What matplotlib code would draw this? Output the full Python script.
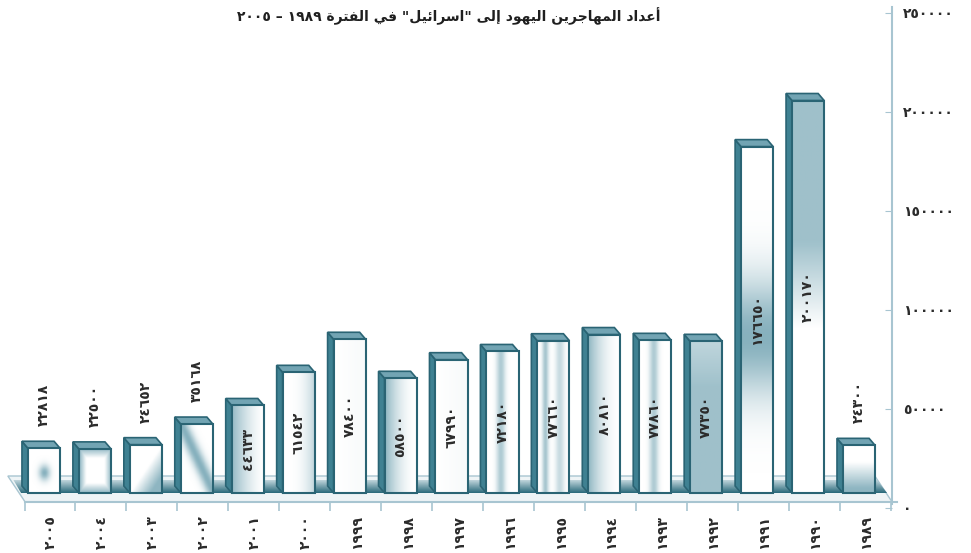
import re
import numpy as np
import matplotlib
matplotlib.use('Agg')
import matplotlib.pyplot as plt
from matplotlib.patches import Polygon, Rectangle
from matplotlib.colors import LinearSegmentedColormap

# ------------------- Data -------------------
years = [2005, 2004, 2003, 2002, 2001, 2000, 1999, 1998, 1997,
         1996, 1995, 1994, 1993, 1992, 1991, 1990, 1989]
immigrants = [22818, 22500, 24652, 35168, 44633, 61542, 78400, 58500, 67990,
              72180, 77660, 80810, 77860, 77350, 176650, 200170, 24300]
y_ticks = [0, 50000, 100000, 150000, 200000, 250000]
title = 'أعداد المهاجرين اليهود إلى "اسرائيل" في الفترة ١٩٨٩ – ٢٠٠٥'

# front face shading of each bar (left to right)
fills = ['blob', 'frame', 'diag_low', 'diag', 'left_soft', 'right_soft', 'plain',
         'left', 'plain', 'center', 'stripes', 'left', 'center', 'top_light',
         'mid_band', 'top', 'bottom']

EDGE = '#2a6474'
SIDE = '#3f8192'
TOP = '#72a4b3'
AXIS = '#a8c5d1'
TEXT = '#2b2b2b'

# ------------------- Arabic helpers -------------------
AR_DIGITS = str.maketrans('0123456789', '٠١٢٣٤٥٦٧٨٩')


def to_ar(n):
    return str(n).translate(AR_DIGITS)


FORMS = {
    'ا': ('\uFE8D', '\uFE8E', None, None),
    'أ': ('\uFE83', '\uFE84', None, None),
    'إ': ('\uFE87', '\uFE88', None, None),
    'ئ': ('\uFE89', '\uFE8A', '\uFE8B', '\uFE8C'),
    'ت': ('\uFE95', '\uFE96', '\uFE97', '\uFE98'),
    'ة': ('\uFE93', '\uFE94', None, None),
    'ج': ('\uFE9D', '\uFE9E', '\uFE9F', '\uFEA0'),
    'د': ('\uFEA9', '\uFEAA', None, None),
    'ر': ('\uFEAD', '\uFEAE', None, None),
    'س': ('\uFEB1', '\uFEB2', '\uFEB3', '\uFEB4'),
    'ع': ('\uFEC9', '\uFECA', '\uFECB', '\uFECC'),
    'ف': ('\uFED1', '\uFED2', '\uFED3', '\uFED4'),
    'ل': ('\uFEDD', '\uFEDE', '\uFEDF', '\uFEE0'),
    'م': ('\uFEE1', '\uFEE2', '\uFEE3', '\uFEE4'),
    'ن': ('\uFEE5', '\uFEE6', '\uFEE7', '\uFEE8'),
    'ه': ('\uFEE9', '\uFEEA', '\uFEEB', '\uFEEC'),
    'و': ('\uFEED', '\uFEEE', None, None),
    'ى': ('\uFEEF', '\uFEF0', None, None),
    'ي': ('\uFEF1', '\uFEF2', '\uFEF3', '\uFEF4'),
}


def shape_arabic(text):
    out = []
    for i, ch in enumerate(text):
        if ch not in FORMS:
            out.append(ch)
            continue
        prev = text[i - 1] if i > 0 else ''
        nxt = text[i + 1] if i + 1 < len(text) else ''
        iso, fin, ini, med = FORMS[ch]
        join_prev = prev in FORMS and FORMS[prev][2] is not None
        join_next = ini is not None and nxt in FORMS
        if join_prev and join_next:
            out.append(med)
        elif join_prev:
            out.append(fin)
        elif join_next:
            out.append(ini)
        else:
            out.append(iso)
    vis = ''.join(out)[::-1]
    # numbers stay left to right
    return re.sub('[٠-٩0-9]+', lambda m: m.group(0)[::-1], vis)


# ------------------- Shading patterns -------------------
def pattern(name):
    u, v = np.meshgrid(np.linspace(0, 1, 40), np.linspace(0, 1, 80))
    if name == 'blob':
        return 0.75 * np.exp(-((u - 0.5) ** 2 + (v - 0.45) ** 2) / 0.03)
    if name == 'frame':
        d = np.minimum(np.minimum(u, 1 - u), np.minimum(v, 1 - v))
        return 0.7 * np.clip(1 - d / 0.22, 0, 1)
    if name == 'diag_low':
        return 0.7 * np.clip((u - v) * 1.6, 0, 1)
    if name == 'diag':
        return 0.75 * np.exp(-((u + v) - 1.0) ** 2 / 0.05)
    if name == 'left_soft':
        return 0.65 * (1 - u) ** 1.5
    if name == 'right_soft':
        return 0.45 * u ** 3
    if name == 'left':
        return 0.7 * (1 - u) ** 2
    if name == 'center':
        return 0.5 * np.exp(-(u - 0.45) ** 2 / 0.02)
    if name == 'stripes':
        return 0.55 * np.exp(-(u - 0.25) ** 2 / 0.01) + 0.35 * np.exp(-(u - 0.7) ** 2 / 0.02)
    if name == 'top_light':
        return 0.6 - 0.2 * np.clip((v - 0.7) / 0.3, 0, 1)
    if name == 'mid_band':
        return 0.75 * np.exp(-((v - 0.45) / 0.17) ** 2)
    if name == 'top':
        return 0.6 * np.clip((v - 0.42) / 0.22, 0, 1)
    if name == 'bottom':
        return 0.7 * np.clip((0.65 - v) / 0.55, 0, 1)
    return 0.05 * u


cmap = LinearSegmentedColormap.from_list('steel', ['#ffffff', '#5f97a8'])

# ------------------- Figure -------------------
fig = plt.figure(figsize=(9.71, 5.53), dpi=100)
ax = fig.add_axes([0, 0, 1, 1])
ax.axis('off')

PX = 50.94          # pixels per bar slot
PY = 510.0          # people per pixel
dx = 6 / PX         # depth offset of the 3D bars
dy = 7 * PY
w = 0.63

# floor
floor_back, floor_front = 17 * PY, -9 * PY
ax.add_patch(Polygon([(-0.71, floor_back), (16.31, floor_back),
                      (16.65, floor_front), (-0.37, floor_front)],
                     closed=True, facecolor='#eef4f6', edgecolor=AXIS, lw=1, zorder=1))
shadow = Polygon([(-0.6, 13 * PY), (16.35, 13 * PY), (16.55, 0), (-0.45, 0)],
                 closed=True, facecolor='none', edgecolor='none')
ax.add_patch(shadow)
grad = np.linspace(1, 0.15, 30)[:, None] * np.ones((30, 10))
sh = ax.imshow(grad, extent=[-0.62, 16.55, 0, 13 * PY], origin='lower', aspect='auto',
               cmap=LinearSegmentedColormap.from_list('sh', ['#d9e7ec', '#2a6a7b']),
               vmin=0, vmax=1, zorder=1.5)
sh.set_clip_path(shadow)
ax.plot([-0.37, 16.75], [floor_front, floor_front], color=AXIS, lw=1.5, zorder=2)

# bars
for i, (val, fill) in enumerate(zip(immigrants, fills)):
    x0, x1 = i - w / 2, i + w / 2
    ax.add_patch(Polygon([(x0, 0), (x0, val), (x0 - dx, val + dy), (x0 - dx, dy)],
                         closed=True, facecolor=SIDE, edgecolor=EDGE, lw=1.2, zorder=3))
    ax.add_patch(Polygon([(x0, val), (x1, val), (x1 - dx, val + dy), (x0 - dx, val + dy)],
                         closed=True, facecolor=TOP, edgecolor=EDGE, lw=1.2, zorder=3))
    ax.imshow(pattern(fill), extent=[x0, x1, 0, val], origin='lower', aspect='auto',
              cmap=cmap, vmin=0, vmax=1, interpolation='bilinear', zorder=3)
    ax.add_patch(Rectangle((x0, 0), w, val, facecolor='none', edgecolor=EDGE,
                           lw=1.5, zorder=4))

    if val > 40000:
        ax.text(i, val / 2, to_ar(val), rotation=90, ha='center', va='center',
                fontsize=10, fontweight='bold', color=TEXT, zorder=5)
    else:
        ax.text(i, val + 22 * PY, to_ar(val), rotation=90, ha='center', va='bottom',
                fontsize=10, fontweight='bold', color=TEXT, zorder=5)

    # year labels below the floor
    ax.text(i + 0.14, -22 * PY, to_ar(years[i]), rotation=90, ha='center', va='top',
            fontsize=10, fontweight='bold', color=TEXT)

# bottom ticks between the bars
tick_x = [k - 0.5 + dx for k in range(len(years) + 1)]
ax.vlines(tick_x, floor_front - 9 * PY, floor_front, color=AXIS, lw=1.2, zorder=2)

ax.set_xlim(-44 / PX, (971 - 44) / PX)
ax.set_ylim(-60 * PY, 493 * PY)

# ------------------- Right value axis -------------------
ax2 = ax.twinx()
ax2.set_ylim(-45 * 505, 508 * 505)
for s in ['top', 'left', 'bottom']:
    ax2.spines[s].set_visible(False)
ax2.spines['right'].set_position(('data', (892 - 44) / PX))
ax2.spines['right'].set_bounds(2000, 253000)
ax2.spines['right'].set_color(AXIS)
ax2.spines['right'].set_linewidth(1.5)
ax2.set_yticks(y_ticks)
ax2.set_yticklabels([to_ar(t) for t in y_ticks])
ax2.tick_params(axis='y', direction='in', length=5, color=AXIS, pad=8,
                labelsize=10, labelcolor=TEXT)
for lab in ax2.get_yticklabels():
    lab.set_fontweight('bold')

fig.text(449 / 971, 1 - 16 / 553, shape_arabic(title), ha='center', va='center',
         fontsize=10, fontweight='bold', color='#1f1f1f')

fig.savefig('out.png', dpi=100)
